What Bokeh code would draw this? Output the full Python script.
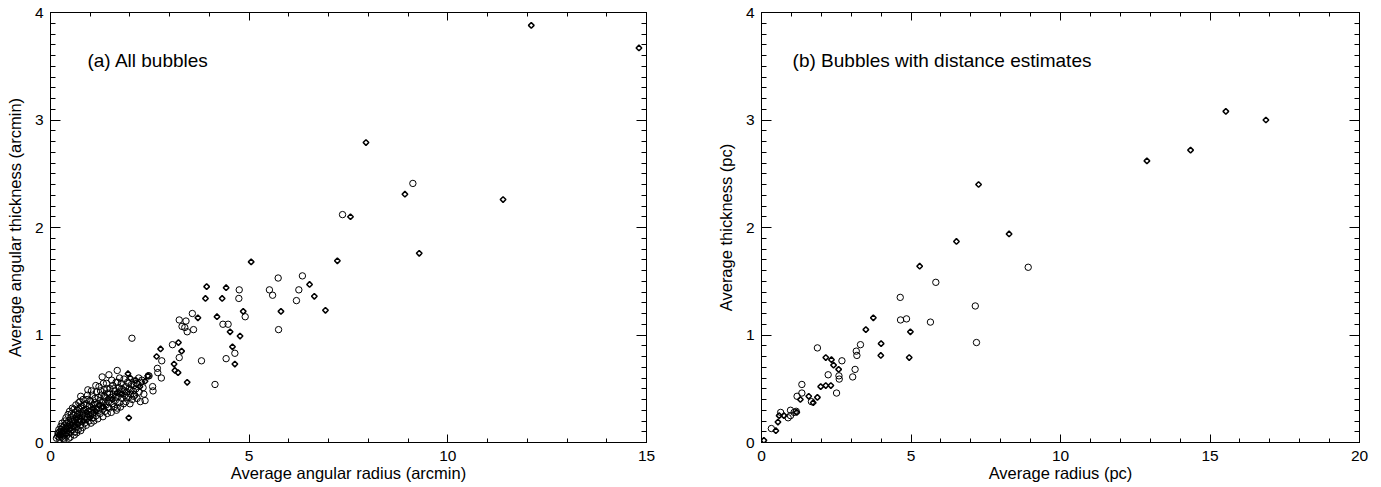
from bokeh.plotting import figure
from bokeh.layouts import row
from bokeh.models import LinearAxis, FixedTicker, Range1d, Label, CustomLabelingPolicy
from bokeh.embed import file_html
from bokeh.resources import INLINE

# ---------------- data: panel (a) all bubbles (arcmin) ----------------
a_circ_x = [5.73, 6.34, 4.75, 4.74, 5.51, 5.59, 6.25, 6.19, 4.90, 5.74, 3.57, 3.24, 3.41, 3.31, 3.38,
            3.44, 3.60, 4.34, 4.47, 4.64, 4.42, 3.80, 4.14, 2.05, 3.07, 3.24, 2.80, 2.69, 2.70, 2.79,
            2.46, 2.48, 2.57, 2.58, 2.38, 7.35, 9.12,
            0.15, 0.18, 0.20, 0.22, 0.24, 0.25, 0.27, 0.28, 0.30, 0.31, 0.33, 0.34, 0.35, 0.37, 0.38,
            0.40, 0.40, 0.42, 0.43, 0.45, 0.46, 0.47, 0.49, 0.50, 0.51, 0.52, 0.54, 0.55, 0.56, 0.57,
            0.58, 0.60, 0.61, 0.62, 0.63, 0.65, 0.66, 0.67, 0.68, 0.70, 0.71, 0.72, 0.73, 0.75, 0.76,
            0.77, 0.78, 0.80, 0.81, 0.82, 0.84, 0.85, 0.86, 0.88, 0.89, 0.90, 0.92, 0.93, 0.94, 0.95,
            0.97, 0.98, 1.00, 1.01, 1.02, 1.04, 1.05, 1.07, 1.08, 1.09, 1.10, 1.12, 1.13, 1.15, 1.16,
            1.18, 1.19, 1.21, 1.22, 1.24, 1.25, 1.27, 1.28, 1.30, 1.31, 1.32, 1.34, 1.35, 1.37, 1.38,
            1.40, 1.41, 1.43, 1.44, 1.46, 1.47, 1.48, 1.50, 1.52, 1.53, 1.55, 1.57, 1.58, 1.60, 1.62,
            1.63, 1.65, 1.66, 1.68, 1.68, 1.70, 1.72, 1.73, 1.75, 1.76, 1.78, 1.80, 1.82, 1.84, 1.85,
            1.87, 1.89, 1.90, 1.92, 1.94, 1.96, 1.98, 2.00, 2.02, 2.04, 2.06, 2.08, 2.10, 2.12, 2.15,
            2.18, 2.20, 2.23, 2.27, 2.30, 2.33, 2.35, 2.26]
a_circ_y = [1.53, 1.55, 1.42, 1.34, 1.42, 1.37, 1.42, 1.32, 1.17, 1.05, 1.20, 1.14, 1.13, 1.08, 1.07,
            1.03, 1.05, 1.10, 1.10, 0.83, 0.78, 0.76, 0.54, 0.97, 0.91, 0.79, 0.76, 0.69, 0.65, 0.60,
            0.62, 0.62, 0.52, 0.48, 0.39, 2.12, 2.41,
            0.04, 0.06, 0.08, 0.05, 0.10, 0.07, 0.12, 0.05, 0.09, 0.14, 0.07, 0.11, 0.16, 0.09, 0.13,
            0.06, 0.18, 0.11, 0.15, 0.08, 0.20, 0.13, 0.17, 0.10, 0.23, 0.14, 0.19, 0.32, 0.12, 0.25,
            0.16, 0.21, 0.10, 0.28, 0.18, 0.14, 0.24, 0.30, 0.19, 0.12, 0.37, 0.22, 0.27, 0.16, 0.43,
            0.32, 0.20, 0.25, 0.14, 0.29, 0.35, 0.22, 0.18, 0.27, 0.31, 0.16, 0.40, 0.24, 0.49, 0.29,
            0.20, 0.34, 0.26, 0.38, 0.18, 0.30, 0.44, 0.23, 0.35, 0.20, 0.28, 0.41, 0.32, 0.25, 0.47,
            0.36, 0.22, 0.30, 0.52, 0.39, 0.27, 0.34, 0.44, 0.61, 0.31, 0.24, 0.38, 0.49, 0.29, 0.42,
            0.35, 0.55, 0.27, 0.46, 0.38, 0.63, 0.32, 0.50, 0.42, 0.28, 0.36, 0.53, 0.45, 0.33, 0.48,
            0.39, 0.56, 0.30, 0.67, 0.32, 0.43, 0.51, 0.37, 0.47, 0.33, 0.55, 0.41, 0.49, 0.36, 0.59,
            0.44, 0.52, 0.38, 0.47, 0.56, 0.42, 0.50, 0.36, 0.45, 0.54, 0.40, 0.48, 0.53, 0.44, 0.50,
            0.41, 0.54, 0.47, 0.56, 0.58, 0.51, 0.45, 0.38]

# more circles of the dense cluster near the origin
a_clus_x = [0.19, 0.21, 0.23, 0.26, 0.29, 0.32, 0.36, 0.39, 0.41, 0.44,
            0.48, 0.50, 0.53, 0.56, 0.59, 0.61, 0.64, 0.66, 0.69, 0.72,
            0.74, 0.76, 0.79, 0.82, 0.85, 0.87, 0.90, 0.93, 0.96, 0.99,
            1.03, 1.06, 1.11, 1.14, 1.17, 1.20, 1.26, 1.29, 1.33, 1.36,
            1.42, 1.45, 1.49, 1.54, 1.59, 1.64, 1.69, 1.74, 1.79, 1.86,
            1.91, 1.97, 2.03, 2.09, 2.16, 2.22, 0.34, 0.28, 0.46, 0.60]
a_clus_y = [0.09, 0.12, 0.03, 0.15, 0.18, 0.04, 0.20, 0.23, 0.09, 0.26,
            0.29, 0.05, 0.27, 0.21, 0.31, 0.15, 0.35, 0.09, 0.26, 0.31,
            0.38, 0.11, 0.34, 0.40, 0.30, 0.21, 0.36, 0.44, 0.26, 0.39,
            0.48, 0.27, 0.37, 0.53, 0.31, 0.42, 0.48, 0.37, 0.55, 0.43,
            0.50, 0.33, 0.45, 0.58, 0.50, 0.42, 0.56, 0.60, 0.50, 0.48,
            0.42, 0.55, 0.49, 0.43, 0.55, 0.60, 0.03, 0.10, 0.04, 0.07]

a_diam_x = [5.05, 7.22, 3.93, 4.42, 3.90, 4.32, 6.52, 6.64, 5.80, 6.92, 4.85, 3.71, 4.19, 4.52, 4.77,
            4.58, 4.64, 3.22, 3.30, 2.77, 2.67, 3.11, 3.21, 3.13, 3.44, 1.95, 1.97, 12.10, 14.81, 8.92,
            11.39, 7.94, 7.55, 9.28,
            0.22, 0.32, 0.41, 0.48, 0.53, 0.59, 0.64, 0.69, 0.74, 0.83, 0.91, 0.99, 1.06, 1.14, 1.23,
            1.33, 1.45, 1.56, 1.67, 1.79, 2.01, 2.14, 2.25, 2.38, 2.45]
a_diam_y = [1.68, 1.69, 1.45, 1.44, 1.34, 1.34, 1.47, 1.36, 1.22, 1.23, 1.22, 1.16, 1.17, 1.03, 0.99,
            0.89, 0.73, 0.93, 0.85, 0.87, 0.80, 0.73, 0.65, 0.67, 0.56, 0.64, 0.23, 3.88, 3.67, 2.31,
            2.26, 2.79, 2.10, 1.76,
            0.07, 0.10, 0.14, 0.12, 0.17, 0.15, 0.22, 0.17, 0.24, 0.20, 0.28, 0.23, 0.32, 0.29, 0.35,
            0.33, 0.41, 0.40, 0.46, 0.45, 0.60, 0.58, 0.52, 0.57, 0.62]

# ---------------- data: panel (b) bubbles with distances (pc) ----------------
b_circ_x = [4.64, 5.83, 7.15, 8.92, 4.65, 4.85, 5.65, 7.19, 3.31, 3.17, 3.19, 3.13, 3.05, 1.87, 2.69,
            2.23, 2.59, 2.60, 2.51, 1.35, 1.35, 1.19, 1.67, 1.16, 1.09, 0.97, 0.64, 0.89, 0.97, 0.33]
b_circ_y = [1.35, 1.49, 1.27, 1.63, 1.14, 1.15, 1.12, 0.93, 0.91, 0.85, 0.81, 0.68, 0.61, 0.88, 0.76,
            0.63, 0.62, 0.59, 0.46, 0.54, 0.46, 0.43, 0.38, 0.29, 0.28, 0.30, 0.28, 0.23, 0.25, 0.13]

b_diam_x = [7.26, 8.28, 6.52, 5.29, 3.74, 3.49, 4.98, 4.00, 3.99, 4.94, 2.15, 2.34, 2.41, 2.58, 2.32,
            2.15, 1.98, 1.30, 1.58, 1.87, 1.73, 1.18, 0.59, 0.75, 0.55, 0.48, 0.08,
            12.89, 14.35, 15.53, 16.87]
b_diam_y = [2.40, 1.94, 1.87, 1.64, 1.16, 1.05, 1.03, 0.92, 0.81, 0.79, 0.79, 0.77, 0.72, 0.68, 0.53,
            0.53, 0.52, 0.40, 0.43, 0.42, 0.37, 0.28, 0.25, 0.25, 0.19, 0.11, 0.02,
            2.62, 2.72, 3.08, 3.00]

x_major_a = [0, 5, 10, 15]
x_major_b = [0, 5, 10, 15, 20]
y_major = [0, 1, 2, 3, 4]

FONT = "Liberation Sans"


def style_axis(ax, major, minor, tin, min_in, labels=True):
    ax.ticker = FixedTicker(ticks=major, minor_ticks=minor)
    ax.axis_line_color = "black"
    ax.axis_line_width = 1
    ax.major_tick_line_color = "black"
    ax.minor_tick_line_color = "black"
    ax.major_tick_in = tin
    ax.major_tick_out = 0
    ax.minor_tick_in = min_in
    ax.minor_tick_out = 0
    ax.major_label_text_font = FONT
    ax.major_label_text_color = "black"
    ax.axis_label_text_font = FONT
    ax.axis_label_text_font_style = "normal"
    ax.axis_label_text_color = "black"
    ax.axis_label_text_font_size = "16.5px"
    if labels:
        ax.major_label_text_font_size = "15.5px"
    else:
        # ticks only: hide every label of the mirrored axis
        ax.major_label_text_font_size = "1px"
        ax.major_label_standoff = 0
        ax.major_label_policy = CustomLabelingPolicy(code="return []")


def make_panel(width, xmax, xmajor, xlabel, ylabel, bl, br, circles, diamonds,
               note, note_x, ylab_standoff):
    p = figure(width=width, height=487, x_range=Range1d(0, xmax), y_range=Range1d(0, 4),
               output_backend="svg", toolbar_location=None,
               min_border_left=bl, min_border_right=br, min_border_top=12, min_border_bottom=45)
    p.xgrid.visible = False
    p.ygrid.visible = False
    p.outline_line_color = "black"
    p.outline_line_width = 1
    p.background_fill_color = "white"
    p.border_fill_color = "white"

    xminor = list(range(0, xmax + 1))
    yminor = [i / 10 for i in range(0, 41)]

    style_axis(p.xaxis[0], xmajor, xminor, 8, 4)
    p.xaxis[0].axis_label = xlabel
    p.xaxis[0].major_label_standoff = 8
    p.xaxis[0].axis_label_standoff = 0

    style_axis(p.yaxis[0], y_major, yminor, 10, 5)
    p.yaxis[0].axis_label = ylabel
    p.yaxis[0].major_label_standoff = 7
    p.yaxis[0].axis_label_standoff = ylab_standoff

    top = LinearAxis()
    style_axis(top, xmajor, xminor, 8, 4, labels=False)
    p.add_layout(top, "above")
    right = LinearAxis()
    style_axis(right, y_major, yminor, 10, 5, labels=False)
    p.add_layout(right, "right")

    for cx, cy in circles:
        p.scatter(cx, cy, marker="circle", size=6.4, fill_color=None,
                  line_color="black", line_width=1)
    for dx, dy in diamonds:
        p.scatter(dx, dy, marker="square", angle=0.785398, size=4.0, fill_color=None,
                  line_color="black", line_width=1.5)

    p.add_layout(Label(x=note_x, y=3.55, text=note, text_font=FONT, text_font_size="19px",
                       text_baseline="middle", text_color="black"))
    return p


p1 = make_panel(700, 15, x_major_a, "Average angular radius (arcmin)",
                "Average angular thickness (arcmin)", 50, 54,
                [(a_circ_x, a_circ_y), (a_clus_x, a_clus_y)], [(a_diam_x, a_diam_y)],
                "(a) All bubbles", 0.93, 8)
p2 = make_panel(681, 20, x_major_b, "Average radius (pc)", "Average thickness (pc)", 61, 22,
                [(b_circ_x, b_circ_y)], [(b_diam_x, b_diam_y)],
                "(b) Bubbles with distance estimates", 1.04, 8)

layout = row(p1, p2)
open("out.html", "w").write(file_html(layout, INLINE))
